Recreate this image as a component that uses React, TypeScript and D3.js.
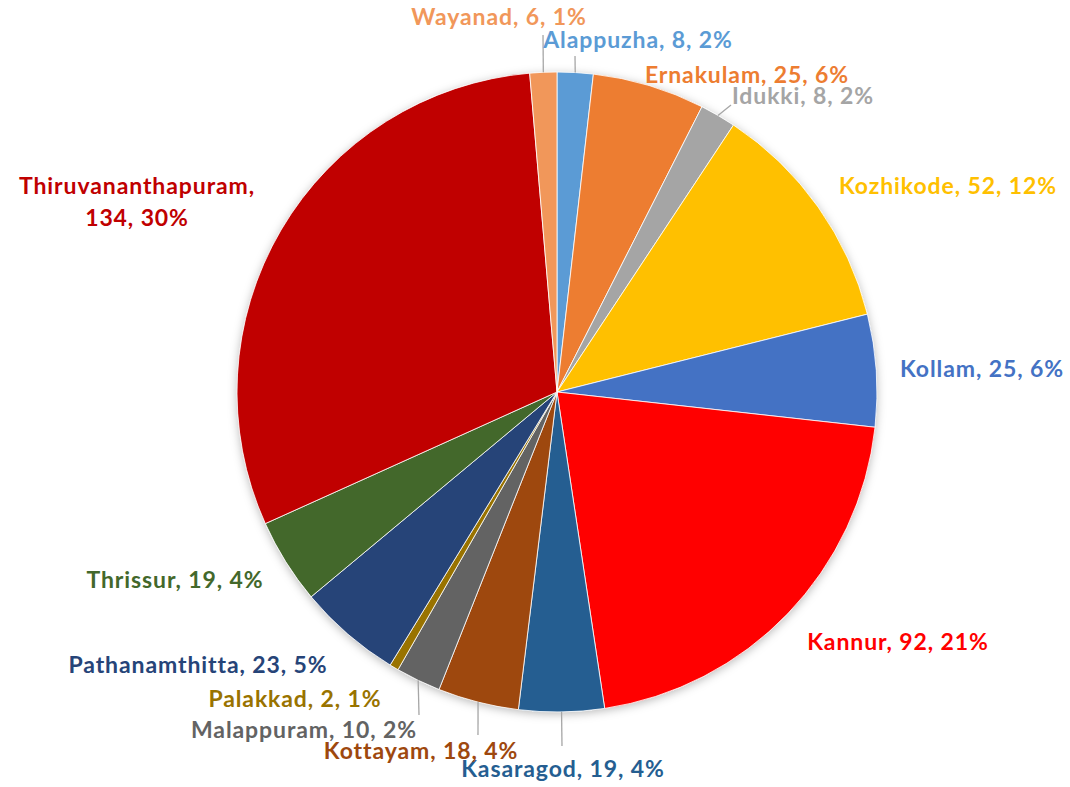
import React from "react";
import * as d3 from "d3";

const districts = [
  "Alappuzha", "Ernakulam", "Idukki", "Kozhikode", "Kollam", "Kannur", "Kasaragod",
  "Kottayam", "Malappuram", "Palakkad", "Pathanamthitta", "Thrissur", "Thiruvananthapuram", "Wayanad",
];
const counts = [8, 25, 8, 52, 25, 92, 19, 18, 10, 2, 23, 19, 134, 6];
const colors = [
  "#5B9BD5", "#ED7D31", "#A5A5A5", "#FFC000", "#4472C4", "#FF0000", "#255E91",
  "#9E480E", "#636363", "#997300", "#264478", "#43682B", "#C00000", "#F1975A",
];

// label layout: center x, baseline y, optional leader end point
const labelLayout: Record<string, { x: number; y: number; lines?: number; leader?: [number, number] }> = {
  Wayanad: { x: 499, y: 25, leader: [543, 35] },
  Alappuzha: { x: 638, y: 48, leader: [575, 56] },
  Ernakulam: { x: 747, y: 83 },
  Idukki: { x: 803, y: 104, leader: [731, 105] },
  Kozhikode: { x: 948, y: 194 },
  Kollam: { x: 982, y: 377 },
  Kannur: { x: 898, y: 650 },
  Kasaragod: { x: 563, y: 777, leader: [562, 746] },
  Kottayam: { x: 421, y: 759, leader: [478, 735] },
  Malappuram: { x: 304, y: 738, leader: [419, 715] },
  Palakkad: { x: 295, y: 707 },
  Pathanamthitta: { x: 198, y: 673 },
  Thrissur: { x: 175, y: 588 },
  Thiruvananthapuram: { x: 137, y: 194, lines: 2 },
};

export default function App() {
  const W = 1070, H = 787;
  const cx = 557, cy = 392, r = 320;
  const total = d3.sum(counts);
  const data = districts.map((d, i) => ({ name: d, value: counts[i], color: colors[i] }));
  const pie = d3.pie<any>().value((d) => d.value).sort(null);
  const arcs = pie(data);
  const arc = d3.arc<any>().innerRadius(0).outerRadius(r);
  const fs = 23;

  return (
    <svg width={W} height={H} style={{ position: "absolute", left: 0, top: 0, background: "#fff" }}
      fontFamily="Lato, 'Open Sans', sans-serif" fontWeight="bold" letterSpacing={0.9}>
      <defs>
        <filter id="sh" x="-20%" y="-20%" width="140%" height="140%">
          <feDropShadow dx="0" dy="2" stdDeviation="5" floodColor="#000" floodOpacity="0.28" />
        </filter>
      </defs>
      <g transform={`translate(${cx},${cy})`}>
        <circle r={r} fill="#fff" filter="url(#sh)" />
        {arcs.map((a, i) => (
          <path key={i} d={arc(a) as string} fill={a.data.color} stroke="#fff" strokeWidth={0.8} />
        ))}
      </g>
      {arcs.map((a, i) => {
        const L = labelLayout[a.data.name];
        if (!L.leader) return null;
        const mid = (a.startAngle + a.endAngle) / 2;
        const x0 = cx + r * Math.sin(mid);
        const y0 = cy - r * Math.cos(mid);
        return (
          <line key={"l" + i} x1={x0} y1={y0} x2={L.leader[0]} y2={L.leader[1]} stroke="#A6A6A6" strokeWidth={1.3} />
        );
      })}
      {arcs.map((a, i) => {
        const L = labelLayout[a.data.name];
        const pct = Math.round((a.data.value / total) * 100) || 1;
        const label = `${a.data.name}, ${a.data.value}, ${pct}%`;
        if (L.lines === 2) {
          return (
            <text key={"t" + i} x={L.x} y={L.y} textAnchor="middle" fontSize={fs} fill={a.data.color}>
              <tspan x={L.x}>{a.data.name},</tspan>
              <tspan x={L.x} dy={32}>{`${a.data.value}, ${pct}%`}</tspan>
            </text>
          );
        }
        return (
          <text key={"t" + i} x={L.x} y={L.y} textAnchor="middle" fontSize={fs} fill={a.data.color}>
            {label}
          </text>
        );
      })}
    </svg>
  );
}
